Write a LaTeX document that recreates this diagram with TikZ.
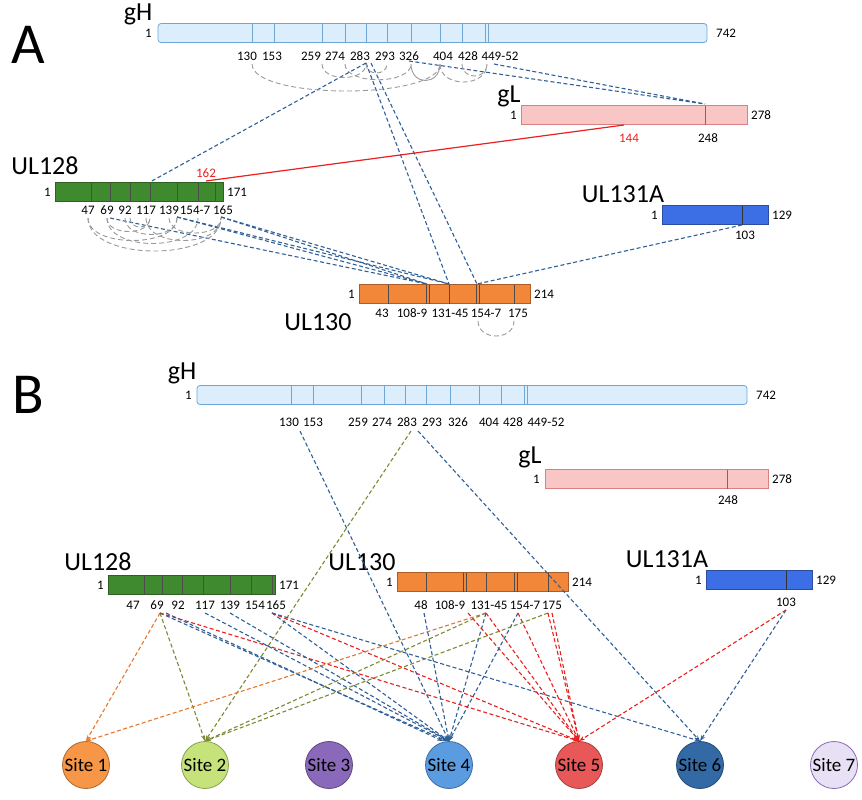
\documentclass[tikz,border=0pt]{standalone}
\usepackage{fontspec}
\setmainfont{Carlito}
\usetikzlibrary{arrows.meta}

\definecolor{ghfill}{HTML}{DCEEFC}
\definecolor{ghdraw}{HTML}{6FA6D8}
\definecolor{glfill}{HTML}{F9C6C6}
\definecolor{gldraw}{HTML}{D98080}
\definecolor{ulgreen}{HTML}{3F8A2F}
\definecolor{ulorange}{HTML}{F2873A}
\definecolor{ulblue}{HTML}{3C6EE6}
\definecolor{lnblue}{HTML}{2F5F98}
\definecolor{lnolive}{HTML}{7A8A32}
\definecolor{lnorange}{HTML}{E5762A}
\definecolor{lnred}{HTML}{E82020}
\definecolor{siteA}{HTML}{F79646}
\definecolor{siteB}{HTML}{C6E27A}
\definecolor{siteC}{HTML}{8A68BA}
\definecolor{siteD}{HTML}{5B9BE0}
\definecolor{siteE}{HTML}{E85858}
\definecolor{siteF}{HTML}{336AA6}
\definecolor{siteG}{HTML}{E8E0F4}

\tikzset{
  bar/.style={draw, rectangle, minimum height=19pt, inner sep=0pt, line width=0.8pt},
  res/.style={font=\fontsize{13}{13}\selectfont, inner sep=1pt},
  protname/.style={font=\fontsize{26}{26}\selectfont, inner sep=0pt},
  panel/.style={font=\fontsize{58}{58}\selectfont, inner sep=0pt},
  link/.style={dashed, dash pattern=on 4pt off 2.5pt, line width=1.1pt, lnblue},
  ssarc/.style={dashed, dash pattern=on 5pt off 3pt, line width=0.9pt, gray!80},
  hit/.style={link, -{Stealth[length=6pt,width=4pt]}},
  site/.style={circle, draw, minimum size=47pt, inner sep=0pt, line width=0.8pt,
               font=\fontsize{19}{19}\selectfont}
}

\begin{document}
\begin{tikzpicture}[x=1pt,y=-1pt]
  \useasboundingbox (0,0) rectangle (862,800);

  % ---------- panel A ----------
  \node[panel] (pA) at (28,45) {A};

  \node[bar, fill=ghfill, draw=ghdraw, minimum width=549pt, rounded corners=3pt] (ghA) at (432.5,33) {};
  \node[protname] (ghAn) at (138,14) {gH};
  \node[res, left] (ghA1) at (153,33) {1};
  \node[res, right] (ghA742) at (715,33) {742};
  \foreach \x in {252,274,322,345,366,387,411,440,462,485,488}
    \draw[ghdraw, line width=0.8pt] (\x,23.5) -- (\x,42.5);
  \foreach \x/\t in {247/130,272/153,311/259,335/274,360/283,385/293,409/326,443/404,468/428,500/449-52}
    \node[res] at (\x,56) {\t};

  \node[bar, fill=glfill, draw=gldraw, minimum width=226pt] (glA) at (634,115) {};
  \node[protname] (glAn) at (509,96) {gL};
  \node[res, left] at (518,115) {1};
  \node[res, right] at (750,115) {278};
  \draw[gldraw!70!black, line width=0.8pt] (705,105.5) -- (705,124.5);
  \node[res, text=lnred] at (629,138) {144};
  \node[res] at (708,138) {248};

  \node[bar, fill=ulgreen, draw=ulgreen!70!black, minimum width=168pt] (u128A) at (139,192) {};
  \node[protname] (u128An) at (45,166) {UL128};
  \node[res, left] at (52,192) {1};
  \node[res, right] at (226,192) {171};
  \foreach \x in {91,110,130,150,177,198,215}
    \draw[black!70, line width=0.8pt] (\x,182.5) -- (\x,201.5);
  \foreach \x/\t in {88/47,107/69,125/92,146/117,169/139,195/154-7,223/165}
    \node[res] at (\x,210) {\t};
  \node[res, text=lnred] at (206,173) {162};

  \node[bar, fill=ulblue, draw=ulblue!70!black, minimum width=106pt] (u131A) at (715,215) {};
  \node[protname] (u131An) at (623,194) {UL131A};
  \node[res, left] at (659,215) {1};
  \node[res, right] at (771,215) {129};
  \draw[black!80, line width=0.8pt] (742,205.5) -- (742,224.5);
  \node[res] at (745,235) {103};

  \node[bar, fill=ulorange, draw=ulorange!70!black, minimum width=171pt] (u130A) at (444.5,294) {};
  \node[protname] (u130An) at (318,322) {UL130};
  \node[res, left] at (356,294) {1};
  \node[res, right] at (533,294) {214};
  \foreach \x in {388,426,429,449,476,479,514}
    \draw[black!70, line width=0.8pt] (\x,284.5) -- (\x,303.5);
  \foreach \x/\t in {382/43,412/108-9,450/131-45,486/154-7,518/175}
    \node[res] at (\x,313) {\t};

  % contact points A
  \coordinate (a283) at (366,63);
  \coordinate (a326) at (409,61);
  \coordinate (a449) at (494,64);
  \coordinate (a248) at (705,104);
  \coordinate (a117) at (150,182);
  \coordinate (a162) at (206,181);
  \coordinate (a144) at (624,125);
  \coordinate (a69)  at (110,218);
  \coordinate (a139) at (177,217);
  \coordinate (a165) at (221,217);
  \coordinate (a103) at (742,225);
  \coordinate (c108) at (427,284);
  \coordinate (c131) at (449,284);
  \coordinate (c154) at (477,284);

  \draw[link] (a283) -- (a117);
  \draw[link] (a283) -- (c131);
  \draw[link] ([xshift=5pt]a283) -- (c154);
  \draw[link] (a326) -- (a248);
  \draw[link] (a449) -- (a248);
  \draw[link] (a69)  -- (c108);
  \draw[link] (a139) -- (c108);
  \draw[link] (a139) -- (c131);
  \draw[link] (a165) -- (c108);
  \draw[link] (a165) -- (c131);
  \draw[link] (a103) -- (c154);
  \draw[lnred, line width=1.2pt] (a162) -- (a144);

  % disulfide arcs A
  \foreach \p/\q/\d in {252/440/100,322/366/82,345/411/85,366/387/76,440/487/88,462/487/80}
    \draw[ssarc] (\p,64) .. controls (\p,\d) and (\q,\d) .. (\q,64);
  \draw[gray!80, line width=0.9pt] (411,64) .. controls (411,86) and (440,86) .. (440,64);
  \foreach \p/\q/\d in {88/221/262,88/177/248,107/150/236,107/198/252,125/177/240,130/150/230,146/221/248,169/221/238}
    \draw[ssarc] (\p,218) .. controls (\p,\d) and (\q,\d) .. (\q,218);
  \draw[ssarc] (478,321) .. controls (478,341) and (514,341) .. (514,321);

  % ---------- panel B ----------
  \node[panel] (pB) at (28,395) {B};

  \node[bar, fill=ghfill, draw=ghdraw, minimum width=550pt, rounded corners=3pt] (ghB) at (472,395) {};
  \node[protname] (ghBn) at (182,373) {gH};
  \node[res, left] at (193,395) {1};
  \node[res, right] at (755,395) {742};
  \foreach \x in {291,313,361,384,405,426,450,479,501,524,527}
    \draw[ghdraw, line width=0.8pt] (\x,385.5) -- (\x,404.5);
  \foreach \x/\t in {289/130,313/153,358/259,382/274,407/283,432/293,458/326,489/404,513/428,546/449-52}
    \node[res] at (\x,422) {\t};

  \node[bar, fill=glfill, draw=gldraw, minimum width=223pt] (glB) at (656.5,479) {};
  \node[protname] (glBn) at (530,457) {gL};
  \node[res, left] at (541,479) {1};
  \node[res, right] at (771,479) {278};
  \draw[gldraw!70!black, line width=0.8pt] (727,469.5) -- (727,488.5);
  \node[res] at (728,500) {248};

  \node[bar, fill=ulgreen, draw=ulgreen!70!black, minimum width=167pt] (u128B) at (191.5,585) {};
  \node[protname] (u128Bn) at (98,562) {UL128};
  \node[res, left] at (105,585) {1};
  \node[res, right] at (278,585) {171};
  \foreach \x in {144,162,182,203,230,251,272}
    \draw[black!70, line width=0.8pt] (\x,575.5) -- (\x,594.5);
  \foreach \x/\t in {133/47,157/69,178/92,205/117,230/139,255/154,276/165}
    \node[res] at (\x,605) {\t};

  \node[bar, fill=ulorange, draw=ulorange!70!black, minimum width=171pt] (u130B) at (482.5,582) {};
  \node[protname] (u130Bn) at (362,562) {UL130};
  \node[res, left] at (394,582) {1};
  \node[res, right] at (571,582) {214};
  \foreach \x in {426,463,466,486,514,517,548}
    \draw[black!70, line width=0.8pt] (\x,572.5) -- (\x,591.5);
  \foreach \x/\t in {421/48,450/108-9,489/131-45,525/154-7,552/175}
    \node[res] at (\x,605) {\t};

  \node[bar, fill=ulblue, draw=ulblue!70!black, minimum width=106pt] (u131B) at (759,580) {};
  \node[protname] (u131Bn) at (667,559) {UL131A};
  \node[res, left] at (703,580) {1};
  \node[res, right] at (815,580) {129};
  \draw[black!80, line width=0.8pt] (786,570.5) -- (786,589.5);
  \node[res] at (786,602) {103};

  % sites
  \node[site, fill=siteA, draw=siteA!70!black] (s1) at (86,765)  {Site 1};
  \node[site, fill=siteB, draw=siteB!70!black] (s2) at (205,765) {Site 2};
  \node[site, fill=siteC, draw=siteC!70!black] (s3) at (329,765) {Site 3};
  \node[site, fill=siteD, draw=siteD!70!black] (s4) at (449,765) {Site 4};
  \node[site, fill=siteE, draw=siteE!70!black] (s5) at (579,765) {Site 5};
  \node[site, fill=siteF, draw=siteF!70!black] (s6) at (700,765) {Site 6};
  \node[site, fill=siteG, draw=siteC]          (s7) at (834,765) {Site 7};

  % contact points B
  \coordinate (bh130) at (300,431);
  \coordinate (bh283) at (411,431);
  \coordinate (bh293) at (418,431);
  \coordinate (b69)   at (160,613);
  \coordinate (b117)  at (205,613);
  \coordinate (b139)  at (230,613);
  \coordinate (b165)  at (272,613);
  \coordinate (b48)   at (424,613);
  \coordinate (b108)  at (468,613);
  \coordinate (b131)  at (486,613);
  \coordinate (b154)  at (518,613);
  \coordinate (b175)  at (548,613);
  \coordinate (b103)  at (786,610);

  \draw[hit] (bh130) -- (s4.north);
  \draw[hit, lnolive] (bh283) -- (s2.north);
  \draw[hit] (bh293) -- (s6.north);

  \draw[hit, lnorange] (b69) -- (s1.north);
  \draw[hit, lnolive]  (b69) -- (s2.north);
  \draw[hit] (b69) -- ([xshift=-2pt]s4.north);
  \draw[hit] ([xshift=6pt]b69) -- ([xshift=-6pt]s4.north);
  \draw[hit, lnred] (b69) -- (s5.north);
  \draw[hit] (b117) -- (s4.north);
  \draw[hit] (b139) -- (s4.north);
  \draw[hit] (b165) -- (s4.north);
  \draw[hit, lnred] (b165) -- (s5.north);
  \draw[hit] (b165) -- (s6.north);

  \draw[hit] (b48) -- (s4.north);
  \draw[hit, lnred] (b108) -- (s5.north);
  \draw[hit, lnorange] (b131) -- (s1.north);
  \draw[hit, lnolive]  (b131) -- (s2.north);
  \draw[hit] (b131) -- (s4.north);
  \draw[hit, lnred] (b131) -- (s5.north);
  \draw[hit] (b154) -- (s4.north);
  \draw[hit, lnred] (b154) -- (s5.north);
  \draw[hit, lnolive] (b175) -- (s2.north);
  \draw[hit, lnred] (b175) -- (s5.north);
  \draw[hit, lnred] ([xshift=4pt]b175) -- (s5.north);

  \draw[hit, lnred] (b103) -- (s5.north);
  \draw[hit] (b103) -- (s6.north);
\end{tikzpicture}
\end{document}
